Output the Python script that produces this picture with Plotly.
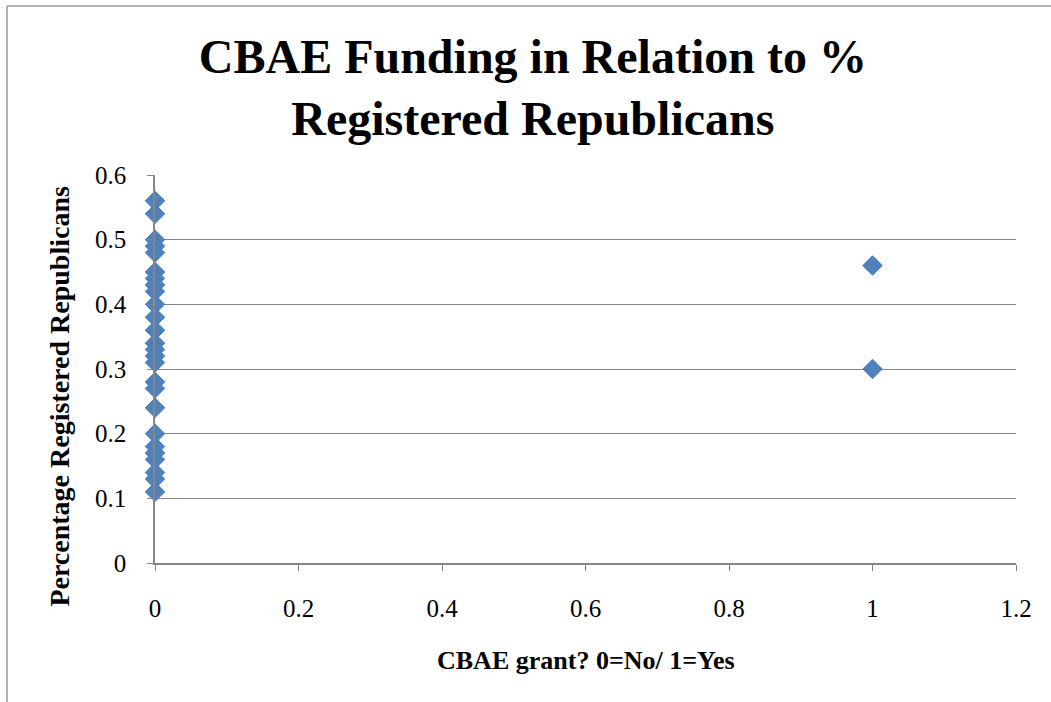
import plotly.graph_objects as go

# CBAE grant status (0 = No, 1 = Yes) and share of registered Republicans
grant_no_x = [0] * 26
grant_no_y = [0.56, 0.54, 0.50, 0.49, 0.48, 0.45, 0.44, 0.43, 0.42, 0.40,
              0.38, 0.36, 0.34, 0.33, 0.32, 0.31, 0.28, 0.27, 0.24, 0.20,
              0.18, 0.17, 0.16, 0.14, 0.13, 0.11]
grant_yes_x = [1, 1]
grant_yes_y = [0.46, 0.30]

x_vals = grant_no_x + grant_yes_x
y_vals = grant_no_y + grant_yes_y

title_text = "CBAE Funding in Relation to %<br>Registered Republicans"
x_title = "CBAE grant? 0=No/ 1=Yes"
y_title = "Percentage Registered Republicans"

serif = "Liberation Serif, Times New Roman, serif"
grid_col = "#868686"

fig = go.Figure()
fig.add_trace(go.Scatter(
    x=x_vals, y=y_vals, mode="markers",
    marker=dict(symbol="diamond", size=15, color="#4F81BD",
                line=dict(color="#4A7EBB", width=1)),
    cliponaxis=False, showlegend=False, hoverinfo="x+y",
))

fig.update_layout(
    width=1051, height=702,
    margin=dict(l=155, r=35, t=175, b=139),
    paper_bgcolor="white", plot_bgcolor="white",
    font=dict(family=serif, color="black"),
    title=dict(text="<b>" + title_text + "</b>", x=0.507, xanchor="center",
               y=0.896, yanchor="top",
               font=dict(family=serif, size=48, color="black")),
    xaxis=dict(range=[0, 1.2], dtick=0.2, tick0=0, showgrid=False,
               showline=True, linecolor=grid_col, linewidth=1.5,
               ticks="outside", ticklen=6, tickcolor=grid_col,
               ticklabelstandoff=16, zeroline=False,
               tickfont=dict(family=serif, size=25, color="black")),
    yaxis=dict(range=[0, 0.6], dtick=0.1, tick0=0, showgrid=True,
               gridcolor=grid_col, gridwidth=1.2,
               showline=True, linecolor=grid_col, linewidth=1.5,
               ticks="outside", ticklen=6, tickcolor=grid_col,
               ticklabelstandoff=16, zeroline=False,
               tickfont=dict(family=serif, size=25, color="black")),
    annotations=[
        dict(text="<b>" + x_title + "</b>", xref="paper", yref="paper",
             x=0.5006, y=-0.25, xanchor="center", yanchor="middle",
             showarrow=False, font=dict(family=serif, size=26, color="black")),
        dict(text="<b>" + y_title + "</b>", xref="paper", yref="paper",
             x=-0.111, y=0.43, xanchor="center", yanchor="middle",
             textangle=-90, showarrow=False,
             font=dict(family=serif, size=28, color="black")),
    ],
    shapes=[
        # outer chart frame (left and top edges visible)
        dict(type="line", xref="paper", yref="paper",
             x0=-0.1719, y0=1.4356, x1=1.2, y1=1.4356,
             line=dict(color="#9a9a9a", width=1.5)),
        dict(type="line", xref="paper", yref="paper",
             x0=-0.1719, y0=1.4356, x1=-0.1719, y1=-0.4,
             line=dict(color="#9a9a9a", width=1.5)),
    ],
)

fig.write_html("out.html")
